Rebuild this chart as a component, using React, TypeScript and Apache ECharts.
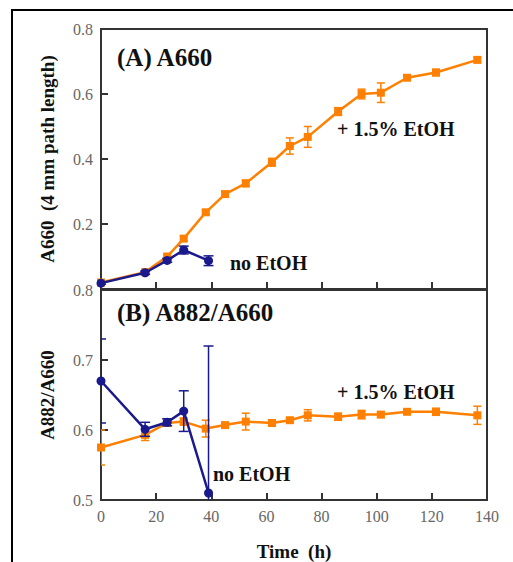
import React, { useEffect, useRef } from "react";
import * as echarts from "echarts";

const timeEtOH = [0, 16, 24, 30, 38, 45, 52.5, 62, 68.5, 75, 86, 94.5, 101.5, 111, 121.5, 136.5];
const a660EtOH = [0.02, 0.052, 0.1, 0.155, 0.236, 0.292, 0.325, 0.39, 0.44, 0.468, 0.546, 0.6, 0.604, 0.65, 0.666, 0.705];
const a660EtOHErr = [0.004, 0.005, 0.006, 0.008, 0.006, 0.008, 0.01, 0.012, 0.025, 0.032, 0.012, 0.015, 0.03, 0.006, 0.01, 0.008];
const ratioEtOH = [0.575, 0.593, 0.61, 0.612, 0.602, 0.607, 0.612, 0.61, 0.614, 0.621, 0.619, 0.622, 0.622, 0.626, 0.626, 0.621];
const ratioEtOHErr = [0.025, 0.008, 0.004, 0.005, 0.012, 0.003, 0.012, 0.004, 0.003, 0.008, 0.005, 0.006, 0.004, 0.003, 0.005, 0.013];

const timeNoEtOH = [0, 16, 24, 30, 39];
const a660NoEtOH = [0.018, 0.05, 0.088, 0.12, 0.087];
const a660NoEtOHErr = [0.003, 0.005, 0.006, 0.012, 0.015];
const ratioNoEtOH = [0.67, 0.601, 0.611, 0.627, 0.51];
const ratioNoEtOHErr = [0.06, 0.01, 0.005, 0.029, 0.21];

const xTicks = { min: 0, max: 140, interval: 20 };

const ORANGE = "#FF8000";
const BLUE = "#1A1A8C";
const FONT = "Liberation Serif";

function errorSeries(idx: number, times: number[], vals: number[], errs: number[], color: string, cap: number, z: number) {
  return {
    type: "custom",
    xAxisIndex: idx,
    yAxisIndex: idx,
    clip: true,
    silent: true,
    z,
    data: times.map((t, i) => [t, vals[i] - errs[i], vals[i] + errs[i]]),
    renderItem: (params: any, api: any) => {
      const lo = api.coord([api.value(0), api.value(1)]);
      const hi = api.coord([api.value(0), api.value(2)]);
      const style = { stroke: color, lineWidth: 1.5 };
      return {
        type: "group",
        children: [
          { type: "line", shape: { x1: hi[0], y1: hi[1], x2: lo[0], y2: lo[1] }, style },
          { type: "line", shape: { x1: hi[0] - cap, y1: hi[1], x2: hi[0] + cap, y2: hi[1] }, style },
          { type: "line", shape: { x1: lo[0] - cap, y1: lo[1], x2: lo[0] + cap, y2: lo[1] }, style },
        ],
      };
    },
  };
}

function lineSeries(idx: number, times: number[], vals: number[], color: string, symbol: string, size: number, z: number) {
  return {
    type: "line",
    xAxisIndex: idx,
    yAxisIndex: idx,
    data: times.map((t, i) => [t, vals[i]]),
    symbol,
    symbolSize: size,
    showSymbol: true,
    z,
    lineStyle: { color, width: 2.5 },
    itemStyle: { color, borderWidth: 0 },
  };
}

export default function App() {
  const ref = useRef<HTMLDivElement>(null);
  useEffect(() => {
    if (!ref.current) return;
    const chart = echarts.init(ref.current, null, { renderer: "svg" });
    const tickLabel = { color: "#666", fontFamily: FONT, fontSize: 16, margin: 8 };
    const nameStyle = { color: "#111", fontFamily: FONT, fontSize: 19, fontWeight: "bold" };
    const textStyle = (size: number) => ({ fill: "#111", font: `bold ${size}px "${FONT}"` });
    chart.setOption({
      animation: false,
      grid: [
        { left: 101, top: 29, width: 386, height: 260, show: true, borderColor: "#333", borderWidth: 2, backgroundColor: "transparent" },
        { left: 101, top: 290, width: 386, height: 210, show: true, borderColor: "#333", borderWidth: 2, backgroundColor: "transparent" },
      ],
      xAxis: [
        {
          gridIndex: 0, type: "value", ...xTicks,
          axisLine: { show: false }, splitLine: { show: false },
          axisTick: { inside: true, length: 7, lineStyle: { color: "#333", width: 2 } },
          axisLabel: { show: false },
        },
        {
          gridIndex: 1, type: "value", ...xTicks,
          axisLine: { show: false }, splitLine: { show: false },
          axisTick: { inside: true, length: 7, lineStyle: { color: "#333", width: 2 } },
          axisLabel: tickLabel,
          name: "Time  (h)", nameLocation: "middle", nameGap: 42, nameTextStyle: nameStyle,
        },
      ],
      yAxis: [
        {
          gridIndex: 0, type: "value", min: 0, max: 0.8, interval: 0.2,
          axisLine: { show: false }, splitLine: { show: false },
          axisTick: { inside: true, length: 7, lineStyle: { color: "#333", width: 2 } },
          axisLabel: { ...tickLabel, formatter: (v: number) => (v === 0 ? "" : v.toFixed(1)) },
          name: "A660  (4 mm path length)", nameLocation: "middle", nameRotate: 90, nameGap: 44, nameTextStyle: nameStyle,
        },
        {
          gridIndex: 1, type: "value", min: 0.5, max: 0.8, interval: 0.1,
          axisLine: { show: false }, splitLine: { show: false },
          axisTick: { inside: true, length: 7, lineStyle: { color: "#333", width: 2 } },
          axisLabel: { ...tickLabel, formatter: (v: number) => v.toFixed(1) },
          name: "A882/A660", nameLocation: "middle", nameRotate: 90, nameGap: 44, nameTextStyle: nameStyle,
        },
      ],
      series: [
        errorSeries(0, timeEtOH, a660EtOH, a660EtOHErr, ORANGE, 4, 2),
        lineSeries(0, timeEtOH, a660EtOH, ORANGE, "rect", 8, 3),
        errorSeries(0, timeNoEtOH, a660NoEtOH, a660NoEtOHErr, BLUE, 5, 4),
        lineSeries(0, timeNoEtOH, a660NoEtOH, BLUE, "circle", 9, 5),
        errorSeries(1, timeEtOH, ratioEtOH, ratioEtOHErr, ORANGE, 4, 2),
        lineSeries(1, timeEtOH, ratioEtOH, ORANGE, "rect", 8, 3),
        errorSeries(1, timeNoEtOH, ratioNoEtOH, ratioNoEtOHErr, BLUE, 5, 4),
        lineSeries(1, timeNoEtOH, ratioNoEtOH, BLUE, "circle", 9, 5),
      ],
      graphic: [
        { type: "rect", shape: { x: 12, y: 10, width: 540, height: 600 }, style: { fill: "none", stroke: "#000", lineWidth: 2 }, z: 0 },
        { type: "text", x: 117, y: 57, style: { text: "(A) A660", ...textStyle(25), textVerticalAlign: "middle" } },
        { type: "text", x: 117, y: 312, style: { text: "(B) A882/A660", ...textStyle(25), textVerticalAlign: "middle" } },
        { type: "text", x: 337, y: 129, style: { text: "+ 1.5% EtOH", ...textStyle(20), textVerticalAlign: "middle" } },
        { type: "text", x: 230, y: 263, style: { text: "no EtOH", ...textStyle(20), textVerticalAlign: "middle" } },
        { type: "text", x: 337, y: 392, style: { text: "+ 1.5% EtOH", ...textStyle(20), textVerticalAlign: "middle" } },
        { type: "text", x: 213, y: 474, style: { text: "no EtOH", ...textStyle(20), textVerticalAlign: "middle" } },
      ],
    });
    return () => chart.dispose();
  }, []);
  return <div ref={ref} style={{ position: "absolute", left: 0, top: 0, width: 513, height: 562, background: "#fff" }} />;
}
